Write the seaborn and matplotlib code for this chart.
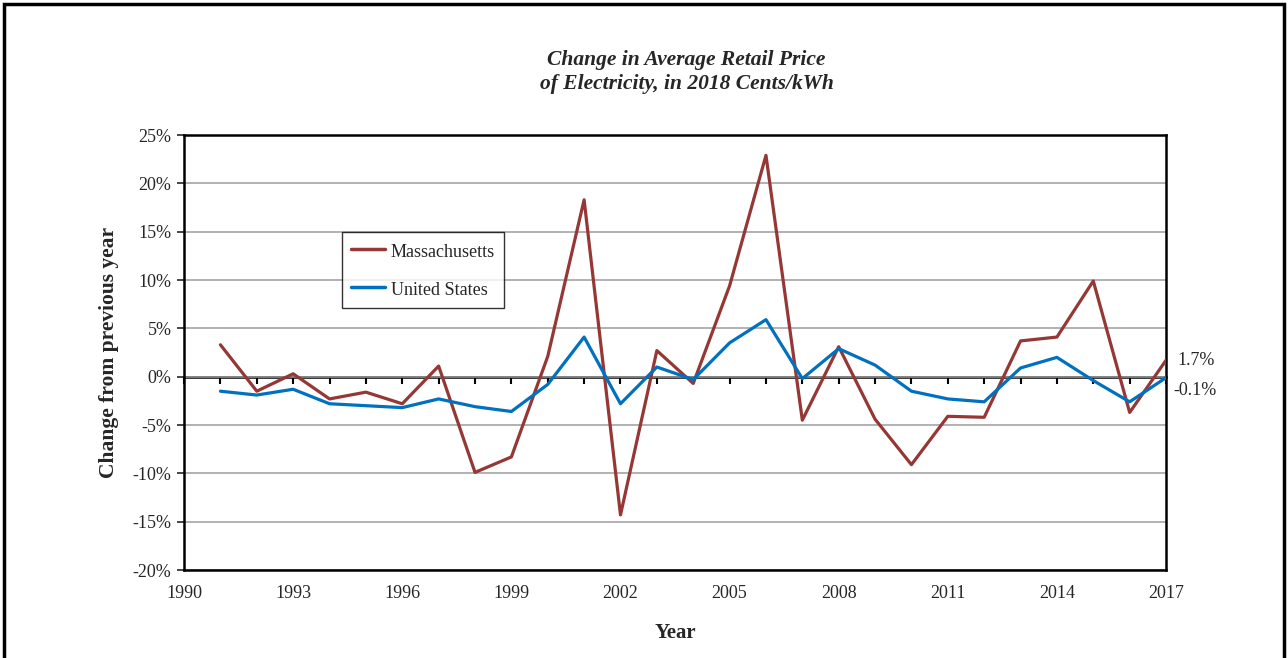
import seaborn as sns
import matplotlib.pyplot as plt
import matplotlib.patches as mpatches
from matplotlib.ticker import FuncFormatter, MultipleLocator, FixedLocator
import pandas as pd

# data (% change from previous year)
years = list(range(1991, 2018))
massachusetts = [3.3, -1.5, 0.3, -2.3, -1.6, -2.8, 1.1, -9.9, -8.3, 2.1,
                 18.3, -14.3, 2.7, -0.7, 9.4, 22.9, -4.5, 3.1, -4.4, -9.1,
                 -4.1, -4.2, 3.7, 4.1, 9.9, -3.7, 1.7]
united_states = [-1.5, -1.9, -1.3, -2.8, -3.0, -3.2, -2.3, -3.1, -3.6, -0.8,
                 4.1, -2.8, 1.0, -0.3, 3.5, 5.9, -0.2, 2.9, 1.2, -1.5,
                 -2.3, -2.6, 0.9, 2.0, -0.4, -2.6, -0.1]
year_ticks = list(range(1990, 2018, 3))
series_names = ["Massachusetts", "United States"]
colors = ["#953735", "#0070C0"]

df = pd.DataFrame({"year": years * 2,
                   "change": massachusetts + united_states,
                   "region": [series_names[0]] * len(years) + [series_names[1]] * len(years)})

sns.set_style("white")
plt.rcParams["font.family"] = ["Liberation Serif", "DejaVu Serif"]

fig = plt.figure(figsize=(12.88, 6.58), dpi=100)
ax = fig.add_axes([0.1429, 0.1337, 0.7624, 0.6611])

sns.lineplot(data=df, x="year", y="change", hue="region", palette=colors,
             linewidth=2.3, ax=ax, zorder=3)

ymin, ymax = -20, 25
ax.set_xlim(year_ticks[0], years[-1])
ax.set_ylim(ymin, ymax)
ax.yaxis.set_major_locator(MultipleLocator(5))
ax.yaxis.set_major_formatter(FuncFormatter(lambda v, p: f"{v:.0f}%"))
ax.xaxis.set_major_locator(FixedLocator(year_ticks))
ax.tick_params(axis="x", length=0, pad=11, labelsize=13)
ax.tick_params(axis="y", length=5, width=1.2, direction="out", left=True, labelsize=13, pad=4)
ax.grid(axis="y", color="#9c9c9c", linewidth=1.1)
ax.grid(axis="x", visible=False)
for s in ax.spines.values():
    s.set_visible(True)
    s.set_color("black")
    s.set_linewidth(1.8)

# zero line with yearly tick marks
zero_pos = (0 - ymin) / (ymax - ymin)
sec = ax.secondary_xaxis(zero_pos)
sec.xaxis.set_major_locator(MultipleLocator(1))
sec.tick_params(axis="x", length=5, width=1.5, direction="out", labelbottom=False, color="black")
sec.spines["bottom"].set_linewidth(1.8)
sec.spines["bottom"].set_color("black")

ax.set_xlabel("Year", fontsize=15, fontweight="bold", labelpad=15)
ax.set_ylabel("Change from previous year", fontsize=15.5, fontweight="bold", labelpad=10)

fig.text(0.533, 0.891, "Change in Average Retail Price\nof Electricity, in 2018 Cents/kWh",
         ha="center", va="center", fontsize=15.5, fontweight="bold", style="italic",
         linespacing=1.25)

# end labels
ax.annotate(f"{massachusetts[-1]:.1f}%", xy=(years[-1], massachusetts[-1]),
            xytext=(8, 0), textcoords="offset points", va="center", ha="left", fontsize=13)
ax.annotate(f"{united_states[-1]:.1f}%", xy=(years[-1], united_states[-1]),
            xytext=(5, -9), textcoords="offset points", va="center", ha="left", fontsize=13)

leg = ax.legend(loc="upper left", bbox_to_anchor=(0.161, 0.778), fontsize=13,
                frameon=True, fancybox=False, edgecolor="black", handlelength=1.9,
                handleheight=1.3, labelspacing=1.05, borderpad=0.5,
                handletextpad=0.3, borderaxespad=0)
leg.get_frame().set_linewidth(1.0)
for line in leg.get_lines():
    line.set_linewidth(2.5)

# outer chart border
fig.patches.append(mpatches.Rectangle((0.003, -0.1), 0.994, 1.094, transform=fig.transFigure,
                                      fill=False, edgecolor="black", linewidth=2.5))

fig.savefig("out.png", dpi=100)
